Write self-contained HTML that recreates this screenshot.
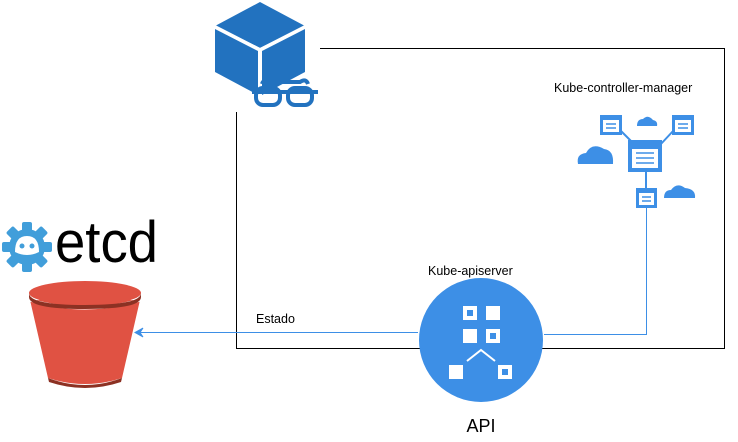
<!DOCTYPE html>
<html><head><meta charset="utf-8"><style>
body{margin:0;background:#fff;width:738px;height:437px;overflow:hidden;font-family:"Liberation Sans",sans-serif}
</style></head><body>
<svg width="738" height="437" viewBox="0 0 738 437" xmlns="http://www.w3.org/2000/svg">
<path d="M320 48.5H724.5V348.5H236.5V112" fill="none" stroke="#000" stroke-width="1"/>
<path d="M418 332.5H140" stroke="#3d8fe6" stroke-width="1"/>
<path d="M143 328L135 332.5L143 337L140 332.5Z" fill="#3d8fe6" stroke="#3d8fe6" stroke-width="1"/>
<path d="M544 334.5H646.5V206" fill="none" stroke="#3d8fe6" stroke-width="1"/>
<g>
<polygon points="260,2 305,26 260,48 215,26" fill="#2272bf"/>
<polygon points="215,29 258,51 258,95 215,72" fill="#2272bf"/>
<polygon points="262,51 305,29 305,72 262,95" fill="#2272bf"/>
<path d="M215,26 L260,49 L305,26 M260,49 V95" stroke="#fff" stroke-width="2" fill="none"/>
<path d="M262 84 Q264 78 270 82 L300 82 Q306 78 308 84" stroke="#2272bf" stroke-width="4" fill="none"/>
<path d="M252 92 H318" stroke="#2272bf" stroke-width="4"/>
<rect x="256" y="88" width="24" height="17" rx="7" fill="none" stroke="#2272bf" stroke-width="4"/>
<rect x="288" y="88" width="24" height="17" rx="7" fill="none" stroke="#2272bf" stroke-width="4"/>
</g>
<text x="554" y="92" font-size="12.5" fill="#000">Kube-controller-manager</text>
<g fill="#3d8fe6">
<path d="M620 130 L635 145 M674 130 L660 145 M646 172 V190" stroke="#3d8fe6" stroke-width="2"/>
<rect x="628" y="140" width="34" height="32"/>
<rect x="600" y="115" width="22" height="20"/>
<rect x="672" y="115" width="22" height="20"/>
<rect x="636" y="188" width="21" height="20"/>
<g fill="#fff">
<rect x="632" y="149" width="26" height="19"/>
<rect x="603" y="120" width="16" height="12"/>
<rect x="675" y="120" width="16" height="12"/>
<rect x="639" y="193" width="15" height="12"/>
</g>
<g stroke="#3d8fe6" stroke-width="1.5">
<path d="M636 153H654M636 158H654M636 163H654M606 124H616M606 128H616M678 124H688M678 128H688M642 197H651M642 201H651"/>
</g>
<path d="M578 164 Q576 154 586 153 Q592 142 604 149 Q614 150 613 164 Z"/>
<path d="M637 126 Q637 119 643 119 Q648 114 653 120 Q658 121 657 126 Z"/>
<path d="M664 198 Q664 190 671 190 Q677 182 685 188 Q696 189 695 198 Z"/>
</g>
<g fill="#419eda">
<circle cx="27" cy="247" r="18"/>
<g transform="translate(27 247)">
<rect x="-5" y="-25" width="10" height="50" rx="2"/>
<rect x="-25" y="-5" width="50" height="10" rx="2"/>
<rect x="-5" y="-25" width="10" height="50" rx="2" transform="rotate(45)"/>
<rect x="-5" y="-25" width="10" height="50" rx="2" transform="rotate(-45)"/>
</g>
</g>
<path d="M15 252 Q15 236 27 236 Q39 236 39 252 Q27 258 15 252Z" fill="#fff"/>
<circle cx="22" cy="246" r="2.5" fill="#419eda"/><circle cx="32" cy="246" r="2.5" fill="#419eda"/>
<text x="55" y="262" font-size="58" fill="#000" textLength="103" lengthAdjust="spacingAndGlyphs">etcd</text>
<path d="M30 300 L140 300 L122 378 Q85 390 48 378 Z" fill="#e05243"/>
<path d="M48 378 Q85 392 122 378 L121 382 Q85 394 49 382 Z" fill="#8c3123"/>
<path d="M30 300 Q85 316 140 300" fill="none" stroke="#fff" stroke-width="3"/>
<ellipse cx="85" cy="293" rx="56" ry="12" fill="#e05243"/>
<path d="M29 293 Q29 305 85 305 Q141 305 141 293 L141 297 Q141 309 85 309 Q29 309 29 297Z" fill="#8c3123"/>
<text x="256" y="323" font-size="12.5" fill="#000">Estado</text>
<text x="428" y="275" font-size="12.5" fill="#000">Kube-apiserver</text>
<circle cx="481" cy="340" r="62" fill="#3d8fe6"/>
<g fill="#fff">
<rect x="463" y="306" width="14" height="14"/><rect x="486" y="306" width="14" height="14"/>
<rect x="463" y="329" width="14" height="14"/><rect x="486" y="329" width="14" height="14"/>
<rect x="449" y="365" width="14" height="14"/><rect x="498" y="365" width="14" height="14"/>
</g>
<g fill="#3d8fe6"><rect x="467" y="310" width="6" height="6"/><rect x="490" y="333" width="6" height="6"/><rect x="502" y="369" width="6" height="6"/></g>
<path d="M467 361 L481 350 L495 361" stroke="#fff" stroke-width="2" fill="none"/>
<text x="481" y="432" font-size="18" text-anchor="middle" fill="#000">API</text>
</svg>
</body></html>
